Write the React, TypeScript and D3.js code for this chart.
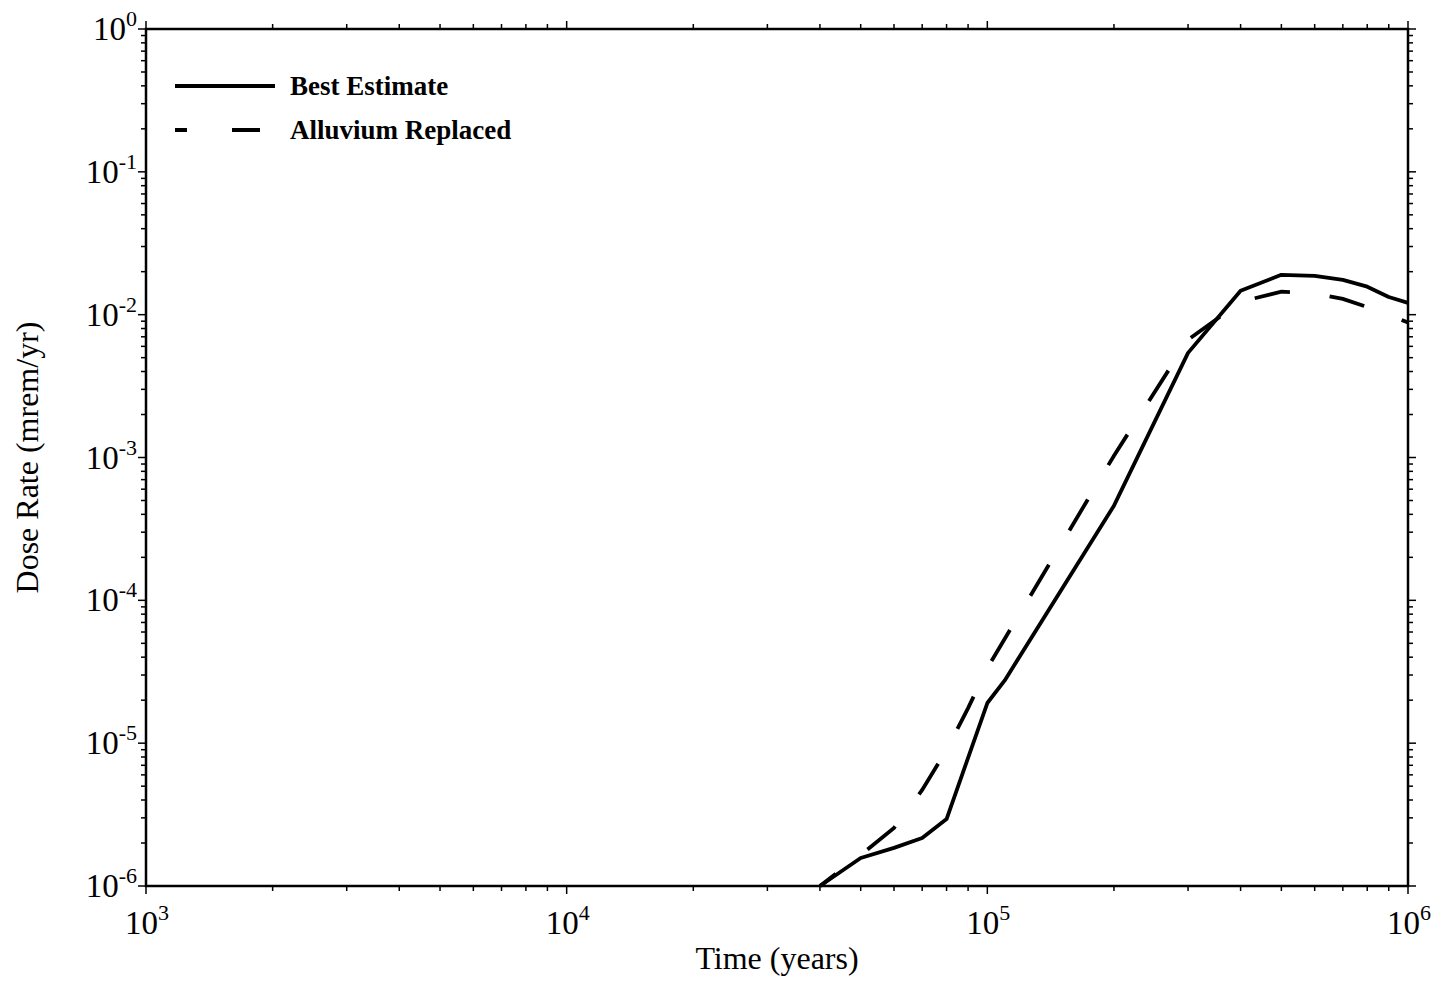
import React from "react";
import * as d3 from "d3";

const years = [4e4, 5e4, 6e4, 7e4, 8e4, 1e5, 1.1e5, 2e5, 3e5, 4e5, 5e5, 6e5, 7e5, 8e5, 9e5, 1e6];
const bestEstimate = [1e-6, 1.57e-6, 1.85e-6, 2.17e-6, 2.94e-6, 1.91e-5, 2.75e-5, 4.6e-4, 5.4e-3, 1.47e-2, 1.9e-2, 1.87e-2, 1.75e-2, 1.57e-2, 1.33e-2, 1.21e-2];
const yearsAlluvium = [4e4, 5e4, 6e4, 7e4, 8e4, 9e4, 1e5, 2e5, 3e5, 4e5, 5e5, 6e5, 7e5, 8e5, 9e5, 1e6];
const alluviumReplaced = [1e-6, 1.65e-6, 2.55e-6, 4.7e-6, 8.95e-6, 1.76e-5, 3.36e-5, 1.03e-3, 6.67e-3, 1.23e-2, 1.45e-2, 1.41e-2, 1.29e-2, 1.13e-2, 1.0e-2, 8.8e-3];

const xTickExps = [3, 4, 5, 6];
const yTickExps = [-6, -5, -4, -3, -2, -1, 0];
const seriesNames = ["Best Estimate", "Alluvium Replaced"];

const W = 1436;
const H = 982;
const L = 146, R = 1408, T = 29, B = 886;
const FONT = "'Liberation Serif', 'Times New Roman', serif";

export default function App() {
  const x = d3.scaleLog().domain([1e3, 1e6]).range([L, R]);
  const y = d3.scaleLog().domain([1e-6, 1]).range([B, T]);

  const line = d3
    .line<[number, number]>()
    .x((d) => x(d[0]))
    .y((d) => y(d[1]));

  const bestPts = years.map((t, i) => [t, bestEstimate[i]] as [number, number]);
  const allPts = yearsAlluvium.map((t, i) => [t, alluviumReplaced[i]] as [number, number]);

  const xMinor: number[] = [];
  for (let e = 3; e < 6; e++) for (let m = 2; m <= 9; m++) xMinor.push(m * Math.pow(10, e));
  const yMinor: number[] = [];
  for (let e = -6; e < 0; e++) for (let m = 2; m <= 9; m++) yMinor.push(m * Math.pow(10, e));

  const tickW = 1.5;
  const major = 8;
  const minor = 5;

  return (
    <svg
      width={W}
      height={H}
      style={{ position: "absolute", left: 0, top: 0, background: "#fff" }}
      fontFamily={FONT}
    >
      <rect x={0} y={0} width={W} height={H} fill="#fff" />
      {xMinor.map((v, i) => (
        <g key={"xm" + i} stroke="#000" strokeWidth={tickW}>
          <line x1={x(v)} x2={x(v)} y1={B} y2={B + minor} />
          <line x1={x(v)} x2={x(v)} y1={T} y2={T - minor} />
        </g>
      ))}
      {yMinor.map((v, i) => (
        <g key={"ym" + i} stroke="#000" strokeWidth={tickW}>
          <line x1={L} x2={L - minor} y1={y(v)} y2={y(v)} />
          <line x1={R} x2={R + minor} y1={y(v)} y2={y(v)} />
        </g>
      ))}
      {xTickExps.map((e) => (
        <g key={"xM" + e} stroke="#000" strokeWidth={tickW}>
          <line x1={x(Math.pow(10, e))} x2={x(Math.pow(10, e))} y1={B} y2={B + major} />
          <line x1={x(Math.pow(10, e))} x2={x(Math.pow(10, e))} y1={T} y2={T - major} />
        </g>
      ))}
      {yTickExps.map((e) => (
        <g key={"yM" + e} stroke="#000" strokeWidth={tickW}>
          <line x1={L} x2={L - major} y1={y(Math.pow(10, e))} y2={y(Math.pow(10, e))} />
          <line x1={R} x2={R + major} y1={y(Math.pow(10, e))} y2={y(Math.pow(10, e))} />
        </g>
      ))}
      <rect x={L} y={T} width={R - L} height={B - T} fill="none" stroke="#000" strokeWidth={2.5} />

      {xTickExps.map((e) => (
        <text key={"xl" + e} x={x(Math.pow(10, e)) - 21} y={934} fontSize={33} fill="#000">
          <tspan>10</tspan>
          <tspan dy={-14} fontSize={22}>{String(e)}</tspan>
        </text>
      ))}
      {yTickExps.map((e) => (
        <text
          key={"yl" + e}
          x={137}
          y={y(Math.pow(10, e)) + 11}
          fontSize={33}
          fill="#000"
          textAnchor="end"
        >
          <tspan>10</tspan>
          <tspan dy={-14} fontSize={22}>{String(e)}</tspan>
        </text>
      ))}

      <text x={(L + R) / 2} y={969} fontSize={32} textAnchor="middle" fill="#000">
        Time (years)
      </text>
      <text
        transform={`translate(38, ${(T + B) / 2}) rotate(-90)`}
        fontSize={32}
        textAnchor="middle"
        fill="#000"
      >
        Dose Rate (mrem/yr)
      </text>

      <path d={line(bestPts) || ""} fill="none" stroke="#000" strokeWidth={3.8} strokeLinejoin="round" />
      <path
        d={line(allPts) || ""}
        fill="none"
        stroke="#000"
        strokeWidth={3.8}
        strokeDasharray="36 40"
        strokeDashoffset={16}
      />

      <line x1={175} x2={275} y1={86} y2={86} stroke="#000" strokeWidth={3.8} />
      <text x={290} y={95} fontSize={27} fontWeight="bold" fill="#000">
        {seriesNames[0]}
      </text>
      <line x1={175} x2={275} y1={130} y2={130} stroke="#000" strokeWidth={3.8} strokeDasharray="12 45 28 200" />
      <text x={290} y={139} fontSize={27} fontWeight="bold" fill="#000">
        {seriesNames[1]}
      </text>
    </svg>
  );
}
